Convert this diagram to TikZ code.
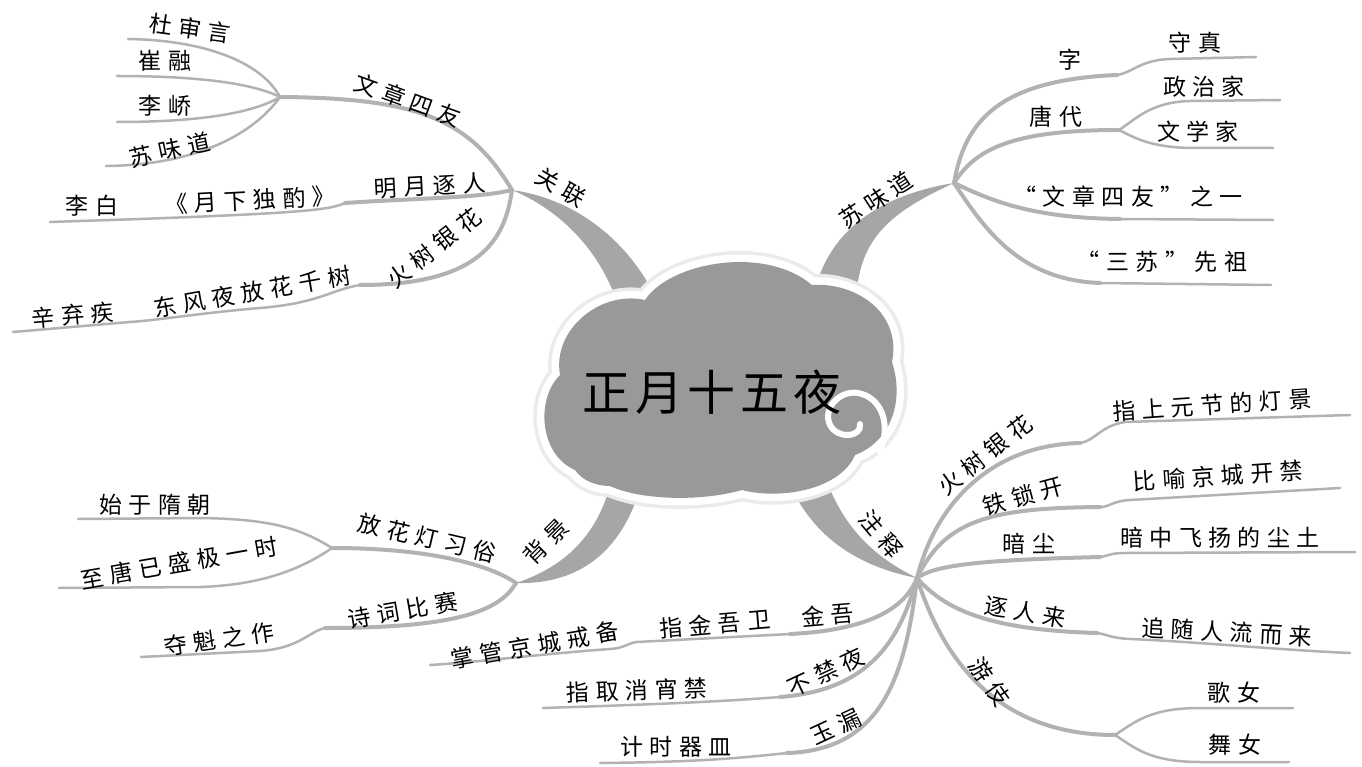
\documentclass[tikz,border=0pt]{standalone}
\usepackage{fontspec}
\setmainfont{Noto Sans CJK SC}
\newfontfamily\mapfont{Noto Sans CJK SC}[LetterSpace=28]
\newfontfamily\titlefont{Noto Sans CJK SC}[LetterSpace=10]
\tikzset{
  trunk/.style={fill=black!35},
  limb/.style={draw=black!30, line width=4pt, line cap=round},
  twig/.style={draw=black!30, line width=2.5pt, line cap=round},
  lbl/.style={font=\mapfont\fontsize{23}{26}\selectfont, inner sep=0pt},
  hub/.style={font=\titlefont\fontsize{48}{52}\selectfont, inner sep=0pt}
}

\begin{document}
\begin{tikzpicture}[x=1pt, y=-1pt]
  \path[use as bounding box, fill=white] (0,0) rectangle (1362,767);

  % junctions and line ends
  \coordinate (gl) at (512,190);
  \coordinate (gw) at (280,97);
  \coordinate (gwa) at (128,39);
  \coordinate (gwb) at (117,76);
  \coordinate (gwc) at (117,122);
  \coordinate (gwd) at (106,166);
  \coordinate (gm) at (345,203);
  \coordinate (gmb) at (140,219);
  \coordinate (gme) at (50,222);
  \coordinate (gh) at (360,285);
  \coordinate (ghb) at (130,322);
  \coordinate (ghe) at (13,332);

  \coordinate (sw) at (954,183);
  \coordinate (sz) at (1117,75);
  \coordinate (sze) at (1256,57);
  \coordinate (st) at (1119,130);
  \coordinate (sta) at (1280,100);
  \coordinate (stb) at (1273,148);
  \coordinate (swa) at (1273,220);
  \coordinate (swb) at (1271,285);

  \coordinate (bj) at (516,583);
  \coordinate (bf) at (332,548);
  \coordinate (bfa) at (78,519);
  \coordinate (bfb) at (59,588);
  \coordinate (bs) at (325,628);
  \coordinate (bse) at (141,657);

  \coordinate (zs) at (917,578);
  \coordinate (zh) at (1080,443);
  \coordinate (zhe) at (1350,415);
  \coordinate (zt) at (1100,507);
  \coordinate (zte) at (1340,488);
  \coordinate (za) at (1100,557);
  \coordinate (zae) at (1355,552);
  \coordinate (zr) at (1097,633);
  \coordinate (zre) at (1350,653);
  \coordinate (zy) at (1115,735);
  \coordinate (zya) at (1293,708);
  \coordinate (zyb) at (1289,762);
  \coordinate (zj) at (790,634);
  \coordinate (zjb) at (637,642);
  \coordinate (zje) at (430,665);
  \coordinate (zb) at (780,697);
  \coordinate (zbe) at (543,708);
  \coordinate (zl) at (787,753);
  \coordinate (zle) at (600,763);

  % trunks
  \fill[trunk] (gl) .. controls (560,210) and (600,250) .. (618,305) -- (656,298) .. controls (625,235) and (570,198) .. (gl) -- cycle;
  \fill[trunk] (815,290) .. controls (830,230) and (880,195) .. (sw) .. controls (895,210) and (862,235) .. (857,290) -- cycle;
  \fill[trunk] (612,478) .. controls (600,530) and (570,565) .. (bj) .. controls (585,585) and (625,545) .. (642,482) -- cycle;
  \fill[trunk] (783,468) .. controls (805,530) and (850,565) .. (zs) .. controls (880,560) and (840,530) .. (822,466) -- cycle;

  % cloud
  \def\cloudpath{(575,470) .. controls (540,455) and (535,400) .. (560,375)
    .. controls (552,330) and (600,290) .. (645,300)
    .. controls (670,262) and (765,245) .. (812,285)
    .. controls (855,282) and (902,312) .. (892,362)
    .. controls (905,402) and (890,442) .. (855,455)
    .. controls (840,490) and (780,500) .. (742,490)
    .. controls (700,502) and (640,500) .. (610,486)
    .. controls (595,486) and (582,480) .. (575,470) -- cycle}
  \draw[black!8, line width=22pt, line join=round] \cloudpath;
  \draw[white, line width=15pt, line join=round] \cloudpath;
  \fill[black!40] \cloudpath;
  \draw[white, line width=6pt, line cap=round] (860,424) .. controls (862,437) and (838,440) .. (830,425) .. controls (822,408) and (840,390) .. (858,393) .. controls (880,397) and (892,422) .. (880,452);
  \node[hub] (title) at (712,392) {正月十五夜};

  % 关联
  \draw[limb] (gl) .. controls (470,120) and (420,98) .. (gw);
  \draw[twig] (gw) .. controls (260,60) and (200,40) .. (gwa);
  \draw[twig] (gw) .. controls (250,82) and (190,76) .. (gwb);
  \draw[twig] (gw) .. controls (250,115) and (190,122) .. (gwc);
  \draw[twig] (gw) .. controls (255,132) and (200,165) .. (gwd);
  \draw[limb] (gl) .. controls (480,198) and (420,198) .. (gm);
  \draw[twig] (gm) .. controls (330,210) and (300,213) .. (gmb) -- (gme);
  \draw[limb] (gl) .. controls (505,240) and (480,285) .. (gh);
  \draw[twig] (gh) .. controls (330,290) and (320,303) .. (260,308) .. controls (200,313) and (160,320) .. (ghb) -- (ghe);

  \node[lbl, rotate=-30] (guan) at (561,187) {关联};
  \node[lbl, rotate=-20] (wenz) at (408,100) {文章四友};
  \node[lbl, rotate=-8] (du) at (190,28) {杜审言};
  \node[lbl] (cui) at (165,61) {崔融};
  \node[lbl] (liq) at (165,106) {李峤};
  \node[lbl, rotate=12] (suw) at (170,150) {苏味道};
  \node[lbl, rotate=3] (mingy) at (430,186) {明月逐人};
  \node[lbl, rotate=3] (yuexia) at (250,200) {《月下独酌》};
  \node[lbl] (libai) at (92,206) {李白};
  \node[lbl, rotate=38] (huol) at (434,248) {火树银花};
  \node[lbl, rotate=10] (dongf) at (252,292) {东风夜放花千树};
  \node[lbl, rotate=5] (xin) at (73,315) {辛弃疾};

  % 苏味道
  \draw[limb] (sw) .. controls (965,120) and (1000,80) .. (sz);
  \draw[twig] (sz) .. controls (1132,73) and (1140,60) .. (1170,59) -- (sze);
  \draw[limb] (sw) .. controls (975,150) and (1010,130) .. (st);
  \draw[twig] (st) .. controls (1135,120) and (1150,102) .. (1190,101) -- (sta);
  \draw[twig] (st) .. controls (1135,138) and (1150,147) .. (1190,148) -- (stb);
  \draw[limb] (sw) .. controls (990,200) and (1030,218) .. (1120,219);
  \draw[twig] (1120,219) -- (swa);
  \draw[limb] (sw) .. controls (985,230) and (1020,280) .. (1100,283);
  \draw[twig] (1100,283) -- (swb);

  \node[lbl, rotate=33] (suwd) at (876,200) {苏味道};
  \node[lbl] (zi) at (1070,60) {字};
  \node[lbl] (shouz) at (1195,43) {守真};
  \node[lbl] (tangd) at (1056,117) {唐代};
  \node[lbl] (zhengz) at (1204,87) {政治家};
  \node[lbl] (wenx) at (1198,132) {文学家};
  \node[lbl] (sisi) at (1128,197) {“文章四友”之一};
  \node[lbl] (sansu) at (1162,262) {“三苏”先祖};

  % 背景
  \draw[limb] (bj) .. controls (490,565) and (430,548) .. (bf);
  \draw[twig] (bf) .. controls (300,528) and (270,519) .. (200,518) -- (bfa);
  \draw[twig] (bf) .. controls (300,570) and (260,585) .. (200,587) -- (bfb);
  \draw[limb] (bj) .. controls (500,610) and (460,628) .. (bs);
  \draw[twig] (bs) .. controls (308,632) and (300,648) .. (260,651) -- (bse);

  \node[lbl, rotate=45] (beij) at (546,542) {背景};
  \node[lbl, rotate=-13] (fanghua) at (427,538) {放花灯习俗};
  \node[lbl] (shiyu) at (155,505) {始于隋朝};
  \node[lbl, rotate=10] (zhitang) at (179,563) {至唐已盛极一时};
  \node[lbl, rotate=10] (shici) at (403,610) {诗词比赛};
  \node[lbl, rotate=8] (duokui) at (219,639) {夺魁之作};

  % 注释
  \draw[limb] (zs) .. controls (935,505) and (990,445) .. (zh);
  \draw[twig] (zh) .. controls (1095,441) and (1100,426) .. (1125,422) -- (zhe);
  \draw[limb] (zs) .. controls (945,520) and (990,508) .. (zt);
  \draw[twig] (zt) .. controls (1110,507) and (1112,501) .. (1130,500) -- (zte);
  \draw[limb] (zs) .. controls (935,565) and (980,560) .. (za);
  \draw[twig] (za) .. controls (1108,556) and (1110,553) .. (1125,553) -- (zae);
  \draw[limb] (zs) .. controls (945,610) and (990,630) .. (zr);
  \draw[twig] (zr) .. controls (1106,634) and (1110,638) .. (1130,639) .. controls (1200,642) and (1280,650) .. (zre);
  \draw[limb] (zs) .. controls (940,650) and (990,735) .. (zy);
  \draw[twig] (zy) .. controls (1135,722) and (1150,708) .. (1200,708) -- (zya);
  \draw[twig] (zy) .. controls (1135,748) and (1150,762) .. (1200,762) -- (zyb);
  \draw[limb] (zs) .. controls (905,608) and (870,630) .. (zj);
  \draw[twig] (zj) -- (zjb) .. controls (628,643) and (625,648) .. (610,649) .. controls (540,654) and (480,662) .. (zje);
  \draw[limb] (zs) .. controls (900,640) and (870,690) .. (zb);
  \draw[twig] (zb) .. controls (740,700) and (700,703) .. (zbe);
  \draw[limb] (zs) .. controls (905,680) and (880,750) .. (zl);
  \draw[twig] (zl) .. controls (740,758) and (700,762) .. (zle);

  \node[lbl, rotate=-50] (zhus) at (881,534) {注释};
  \node[lbl, rotate=38] (huor) at (985,455) {火树银花};
  \node[lbl, rotate=4] (shangy) at (1212,405) {指上元节的灯景};
  \node[lbl, rotate=15] (tiesuo) at (1023,496) {铁锁开};
  \node[lbl, rotate=4] (biyu) at (1218,476) {比喻京城开禁};
  \node[lbl] (anchen) at (1029,544) {暗尘};
  \node[lbl] (anzhong) at (1220,538) {暗中飞扬的尘土};
  \node[lbl, rotate=-10] (zhuren) at (1025,612) {逐人来};
  \node[lbl, rotate=-3] (zhuisui) at (1227,632) {追随人流而来};
  \node[lbl, rotate=-55] (youji) at (990,682) {游伎};
  \node[lbl] (genv) at (1234,693) {歌女};
  \node[lbl] (wunv) at (1235,745) {舞女};
  \node[lbl, rotate=5] (jinwu) at (828,615) {金吾};
  \node[lbl, rotate=5] (jinwuw) at (715,624) {指金吾卫};
  \node[lbl, rotate=10] (zhangg) at (535,645) {掌管京城戒备};
  \node[lbl, rotate=25] (bujin) at (826,672) {不禁夜};
  \node[lbl, rotate=2] (quxiao) at (637,690) {指取消宵禁};
  \node[lbl, rotate=25] (yulou) at (836,727) {玉漏};
  \node[lbl] (jishi) at (676,747) {计时器皿};
\end{tikzpicture}
\end{document}
